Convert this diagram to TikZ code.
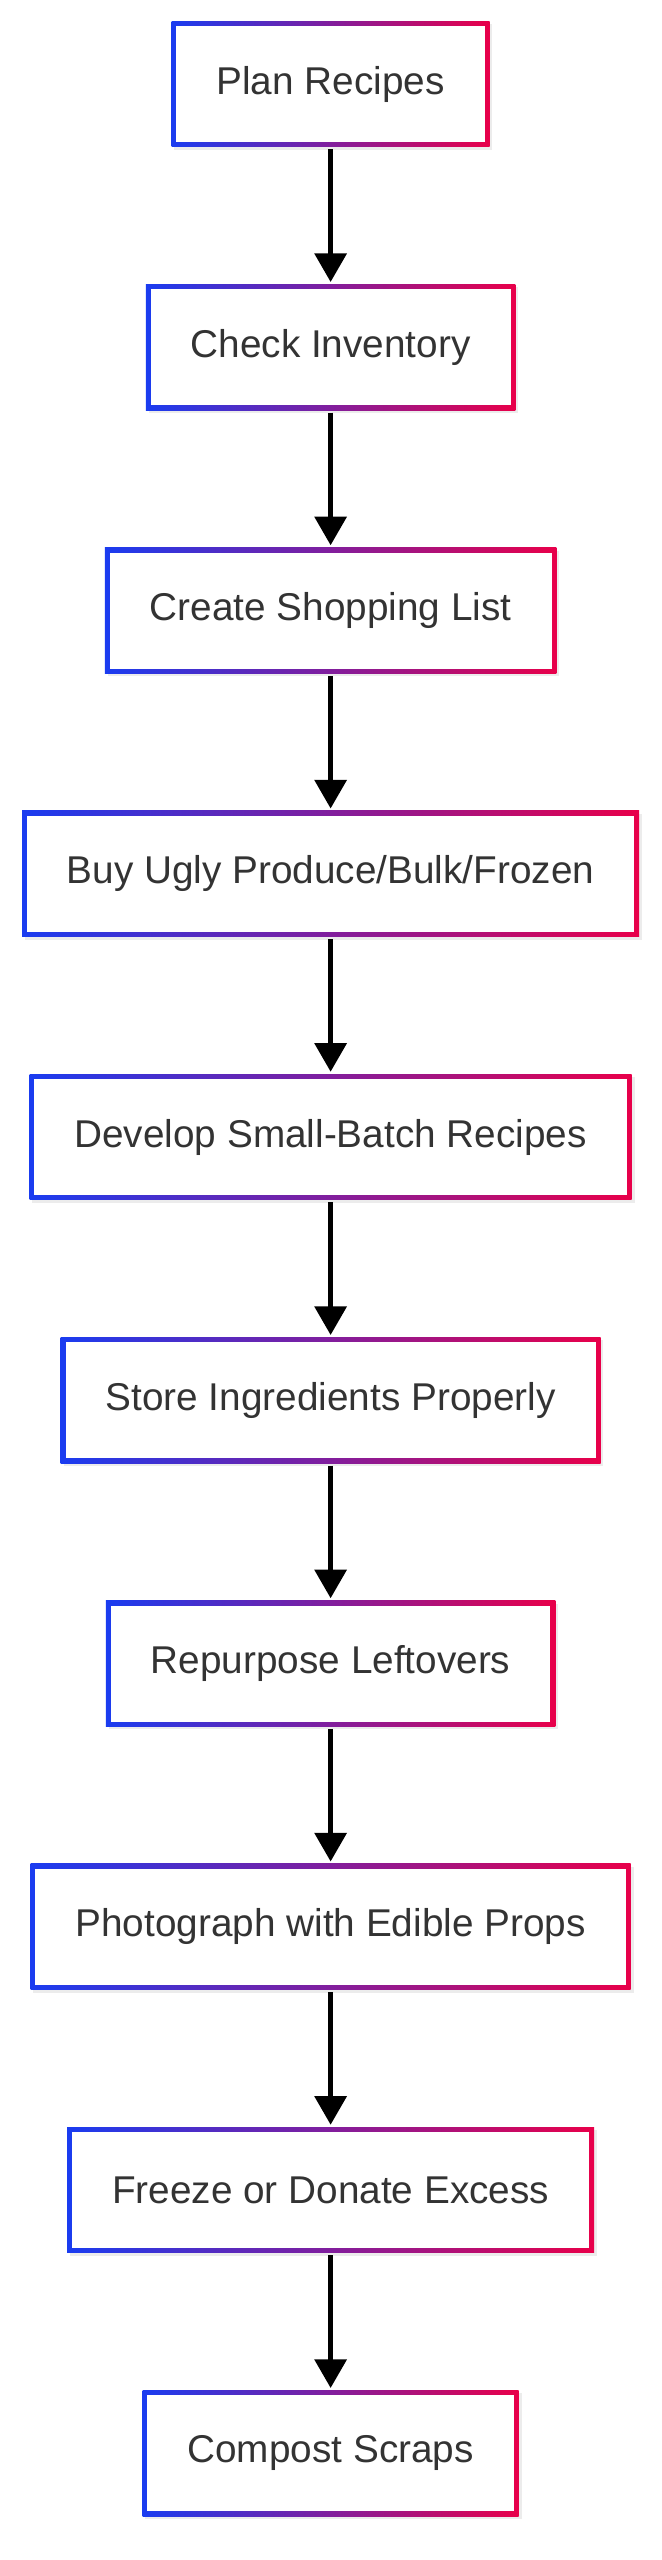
\documentclass[tikz,border=0pt]{standalone}
\usepackage{fontspec}
\setmainfont{Liberation Sans}
\usetikzlibrary{positioning}
\usetikzlibrary{arrows.meta}
\usetikzlibrary{shadows}
\definecolor{flowblue}{HTML}{1A3CF0}
\definecolor{flowred}{HTML}{E8004A}
\definecolor{flowtext}{HTML}{333333}
\tikzset{my_flow/.style={node distance=1.625cm, line width=1.7pt, >={Triangle[width=11pt,length=10pt]}}}
\tikzset{my_step/.style={rectangle, minimum height=1.54cm, inner xsep=0.55cm,
    left color=flowblue, right color=flowred, text=flowtext,
    font=\fontsize{13.5}{16}\selectfont,
    drop shadow={opacity=0.15, shadow xshift=1pt, shadow yshift=-1pt},
    path picture={\fill[white] ([shift={(1.7pt,1.7pt)}]path picture bounding box.south west)
        rectangle ([shift={(-1.7pt,-1.7pt)}]path picture bounding box.north east);}}}

\begin{document}
\begin{tikzpicture}[my_flow]
    \useasboundingbox (0,0) rectangle (8.1,-31.36);
    \node[my_step] (1) at (4.05,-1.03) {Plan Recipes};
    \node[my_step, below=of 1] (2) {Check Inventory};
    \node[my_step, below=of 2] (3) {Create Shopping List};
    \node[my_step, below=of 3] (4) {Buy Ugly Produce/Bulk/Frozen};
    \node[my_step, below=of 4] (5) {Develop Small-Batch Recipes};
    \node[my_step, below=of 5] (6) {Store Ingredients Properly};
    \node[my_step, below=of 6] (7) {Repurpose Leftovers};
    \node[my_step, below=of 7] (8) {Photograph with Edible Props};
    \node[my_step, below=of 8] (9) {Freeze or Donate Excess};
    \node[my_step, below=of 9] (10) {Compost Scraps};

    \foreach \a/\b in {1/2,2/3,3/4,4/5,5/6,6/7,7/8,8/9,9/10}
        \draw[->] (\a) -- (\b);
\end{tikzpicture}
\end{document}
